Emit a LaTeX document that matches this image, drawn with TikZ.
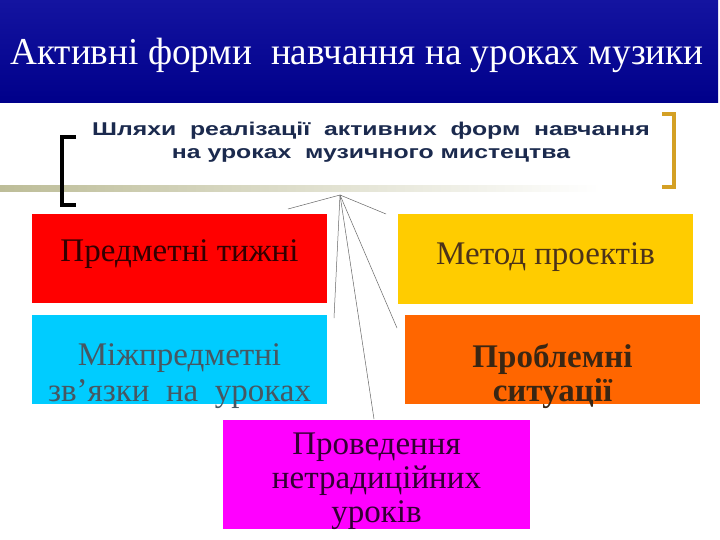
\documentclass[tikz,border=0pt]{standalone}
\usepackage{fontspec}
\setmainfont{Liberation Serif}
\setsansfont{Liberation Sans}
\definecolor{navytxt}{HTML}{1B2A4E}
\definecolor{goldbr}{HTML}{D4A024}
\definecolor{bandtop}{HTML}{1414A0}
\definecolor{bandmid}{HTML}{0000DC}
\definecolor{bandbot}{HTML}{00008A}
\definecolor{khaki}{HTML}{BDBD98}
\definecolor{boxred}{HTML}{FF0000}
\definecolor{boxcyan}{HTML}{00CCFF}
\definecolor{boxyellow}{HTML}{FFCC00}
\definecolor{boxorange}{HTML}{FF6600}
\definecolor{boxmagenta}{HTML}{FF00FF}
\tikzset{
  every picture/.style={x=1pt, y=-1pt},
  formbox/.style={rectangle, minimum width=295pt, minimum height=89pt, inner sep=0pt},
  formtext/.style={font=\fontsize{33}{36}\selectfont, align=center, inner sep=0pt},
  hubline/.style={draw=black!60, line width=0.5pt}}

\begin{document}
\begin{tikzpicture}
    \useasboundingbox (0,0) rectangle (720,540);
    \fill[white] (0,0) rectangle (720,540);

    % title band
    \shade[top color=bandtop, middle color=bandmid, bottom color=bandbot]
      (0,0) rectangle (718,103);
    \node [text=white, font=\fontsize{38}{42}\selectfont, xscale=0.98] (title) at (357,55)
      {Активні форми\ \ навчання на уроках музики};

    % subtitle with brackets
    \shade[left color=khaki, right color=white] (0,186) rectangle (600,192);
    \node [text=navytxt, font=\sffamily\bfseries\fontsize{18.5}{23}\selectfont, align=center, xscale=1.34] (ways) at (371,142)
      {Шляхи\ \ реалізації\ \ активних\ \ форм\ \ навчання\\на уроках\ \ музичного мистецтва};
    \draw [line width=4pt] (76,137) -- (62,137) -- (62,205) -- (76,205);
    \draw [goldbr, line width=4pt] (662,114) -- (674,114) -- (674,187) -- (662,187);

    % boxes
    \node [formbox, fill=boxred] (tyzhni) at (179.5,258.5) {};
    \node [formtext, text=red!20!black] (tyzhniT) at (179.5,254) {Предметні тижні};
    \node [formbox, fill=boxyellow] (metod) at (545.5,259) {};
    \node [formtext, text=brown!40!black] (metodT) at (545.5,257) {Метод проектів};
    \node [formbox, fill=boxcyan] (mizh) at (179.5,359.5) {};
    \node [formtext, text=cyan!30!black] (mizhT) at (179.5,376)
      {Міжпредметні\\зв’язки\ \ на\ \ уроках};
    \node [formbox, fill=boxorange] (probl) at (552.5,359.5) {};
    \node [formtext, text=brown!30!black, font=\bfseries\fontsize{33}{34}\selectfont] (problT) at (552.5,376)
      {Проблемні\\ситуації};
    \node [formbox, fill=boxmagenta, minimum width=307pt, minimum height=109pt] (netr) at (376.5,474.5) {};
    \node [formtext, text=violet!40!black, font=\fontsize{33}{34}\selectfont] (netrT) at (376.5,481)
      {Проведення\\нетрадиційних\\уроків};

    % connectors
    \coordinate (hub) at (340,195);
    \coordinate (toTyzhni) at (288,209);
    \coordinate (toMetod) at (386,214);
    \coordinate (toMizh) at (334,318);
    \coordinate (toProbl) at (397,328);
    \coordinate (toNetr) at (374,419);
    \foreach \e in {toTyzhni,toMetod,toMizh,toProbl,toNetr}
      \draw [hubline] (hub) -- (\e);
\end{tikzpicture}
\end{document}
